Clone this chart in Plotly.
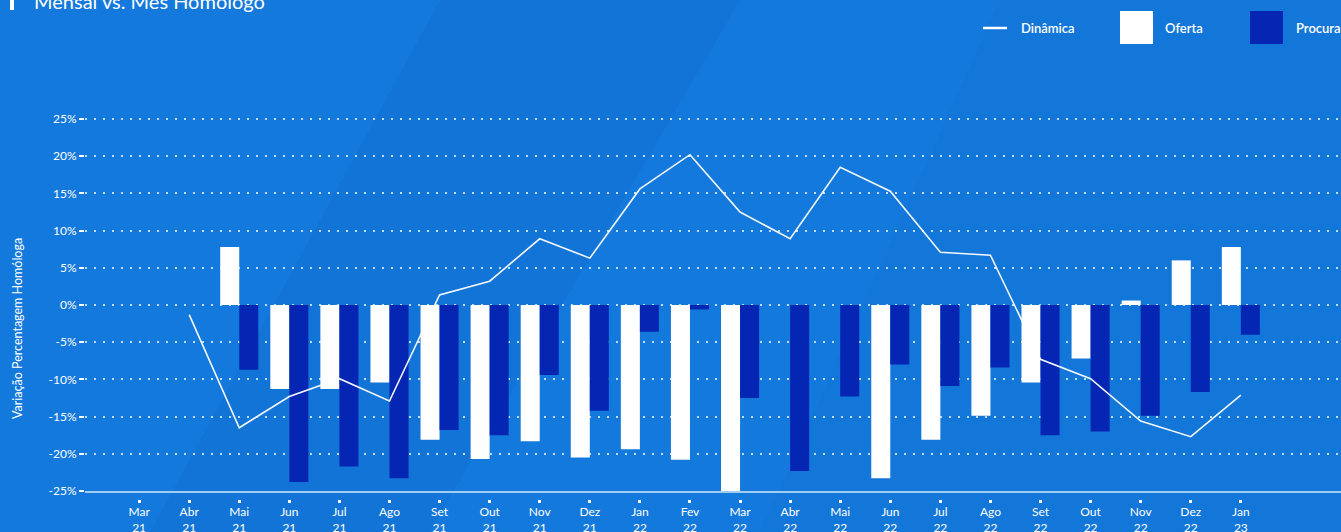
import plotly.graph_objects as go

# ---------------- data ----------------
categories = ["Mar 21", "Abr 21", "Mai 21", "Jun 21", "Jul 21", "Ago 21", "Set 21", "Out 21",
              "Nov 21", "Dez 21", "Jan 22", "Fev 22", "Mar 22", "Abr 22", "Mai 22", "Jun 22",
              "Jul 22", "Ago 22", "Set 22", "Out 22", "Nov 22", "Dez 22", "Jan 23"]
oferta = [None, None, 7.8, -11.3, -11.3, -10.4, -18.1, -20.7, -18.3, -20.5, -19.4, -20.8,
          -25.0, None, None, -23.3, -18.1, -14.9, -10.4, -7.2, 0.6, 6.0, 7.8]
procura = [None, None, -8.7, -23.8, -21.7, -23.3, -16.8, -17.5, -9.4, -14.2, -3.6, -0.6,
           -12.5, -22.3, -12.3, -8.0, -10.9, -8.4, -17.5, -17.0, -14.9, -11.7, -4.0]
dinamica = [None, -1.3, -16.5, -12.3, -9.9, -12.9, 1.35, 3.2, 8.9, 6.3, 15.6, 20.2,
            12.5, 8.9, 18.5, 15.3, 7.1, 6.7, -7.3, -9.9, -15.6, -17.7, -12.1]
y_tickvals = [-25, -20, -15, -10, -5, 0, 5, 10, 15, 20, 25]
y_ticktext = ["-25%", "-20%", "-15%", "-10%", "-5%", "0%", "5%", "10%", "15%", "20%", "25%"]
x_ticktext = [c.replace(" ", "<br>") for c in categories]
title_text = "Mensal vs. Mês Homólogo"
y_title = "Variação Percentagem Homóloga"
series_names = ["Dinâmica", "Oferta", "Procura"]

# ---------------- style ----------------
W, H = 1341, 532
BG = "#1479DD"
DARK = "#0526B2"
FONT = "Lato"
M_L, M_R, M_T, M_B = 85, 0, 116, 27
PLOT_W = W - M_L - M_R
PLOT_H = H - M_T - M_B
AXIS_BOTTOM_PX = 491
PX_PER_UNIT = (491 - 119) / 50.0
Y_TOP = 25 + (119 - M_T) / PX_PER_UNIT


def px_x(px):
    return (px - M_L) / PLOT_W


def px_y(py):
    return (H - M_B - py) / PLOT_H


x_idx = list(range(len(categories)))
x_range = [-1.08, 24.0]

fig = go.Figure()
fig.add_trace(go.Bar(x=x_idx, y=oferta, name=series_names[1], marker=dict(color="#FFFFFF", line=dict(width=0))))
fig.add_trace(go.Bar(x=x_idx, y=procura, name=series_names[2], marker=dict(color=DARK, line=dict(width=0))))
fig.add_trace(go.Scatter(x=x_idx, y=dinamica, name=series_names[0], mode="lines",
                         line=dict(color="rgba(255,255,255,0.95)", width=1.6)))
# invisible trace so the label axis is drawn
fig.add_trace(go.Scatter(x=[x_idx[0]], y=[0], xaxis="x2", yaxis="y", mode="markers",
                         marker=dict(opacity=0), hoverinfo="skip", showlegend=False))

dom_bottom = px_y(AXIS_BOTTOM_PX)

fig.update_layout(
    width=W, height=H,
    paper_bgcolor=BG, plot_bgcolor=BG,
    margin=dict(l=M_L, r=M_R, t=M_T, b=M_B, pad=0, autoexpand=False),
    barmode="group", bargap=0.24, bargroupgap=0,
    showlegend=False,
    font=dict(family=FONT, color="white"),
    xaxis=dict(range=x_range, showgrid=False, zeroline=False, showticklabels=False,
               showline=True, linecolor="#A3CCF2", linewidth=2, ticks="", automargin=False),
    xaxis2=dict(range=x_range, overlaying="x", anchor="free", position=px_y(503),
                tickmode="array", tickvals=x_idx, ticktext=x_ticktext,
                ticks="inside", ticklen=3, tickwidth=3, tickcolor="white",
                showgrid=False, zeroline=False, showline=False, automargin=False,
                tickfont=dict(family=FONT, size=12, color="white")),
    yaxis=dict(range=[-25, Y_TOP], domain=[dom_bottom, 1], automargin=False,
               tickmode="array", tickvals=y_tickvals, ticktext=y_ticktext,
               ticks="outside", ticklen=5, tickwidth=2, tickcolor="white",
               showgrid=True, gridcolor="rgba(255,255,255,0.75)", gridwidth=2, griddash="2px,7px",
               zeroline=False, showline=False,
               tickfont=dict(family=FONT, size=12, color="white")),
)

# faint decorative background bands
fig.add_shape(type="path", xref="paper", yref="paper", layer="below",
              path=f"M {px_x(440)} {px_y(0)} L {px_x(740)} {px_y(0)} L {px_x(430)} {px_y(532)} L {px_x(150)} {px_y(532)} Z",
              fillcolor="rgba(0,40,120,0.05)", line=dict(width=0))
fig.add_shape(type="path", xref="paper", yref="paper", layer="below",
              path=f"M {px_x(1000)} {px_y(0)} L {px_x(1341)} {px_y(0)} L {px_x(1341)} {px_y(532)} L {px_x(760)} {px_y(532)} Z",
              fillcolor="rgba(0,40,120,0.04)", line=dict(width=0))

# title with marker bar
fig.add_shape(type="rect", xref="paper", yref="paper",
              x0=px_x(10), x1=px_x(14), y0=px_y(10), y1=px_y(-5),
              fillcolor="white", line=dict(width=0))
fig.add_annotation(text=title_text, xref="paper", yref="paper", x=px_x(32), y=px_y(1),
                   xanchor="left", yanchor="middle", showarrow=False,
                   font=dict(family=FONT, size=20, color="white"))

# y-axis title
fig.add_annotation(text=y_title, xref="paper", yref="paper", x=px_x(17), y=px_y(329),
                   xanchor="center", yanchor="middle", textangle=-90, showarrow=False,
                   font=dict(family=FONT, size=12.5, color="white"))

# custom legend
fig.add_shape(type="line", xref="paper", yref="paper",
              x0=px_x(983), x1=px_x(1007), y0=px_y(28), y1=px_y(28),
              line=dict(color="white", width=2.5))
fig.add_shape(type="rect", xref="paper", yref="paper",
              x0=px_x(1120), x1=px_x(1153), y0=px_y(44), y1=px_y(11),
              fillcolor="white", line=dict(width=0))
fig.add_shape(type="rect", xref="paper", yref="paper",
              x0=px_x(1250), x1=px_x(1283), y0=px_y(44), y1=px_y(11),
              fillcolor=DARK, line=dict(width=0))
for name, px in zip(series_names, [1019, 1163, 1294]):
    fig.add_annotation(text=name, xref="paper", yref="paper", x=px_x(px), y=px_y(28),
                       xanchor="left", yanchor="middle", showarrow=False,
                       font=dict(family=FONT, size=13, color="white", weight=600))

fig.write_html("out.html", config={"displayModeBar": False},
               post_script="document.body.style.margin='0px';document.body.style.overflow='hidden';")
